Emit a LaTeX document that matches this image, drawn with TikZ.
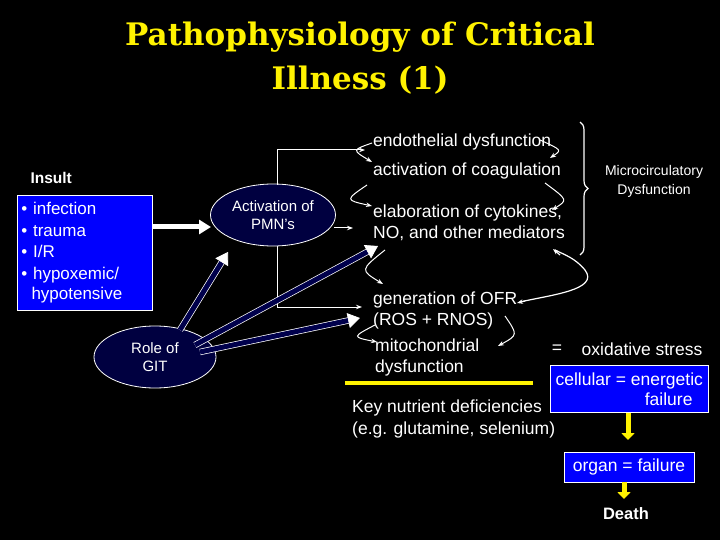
\documentclass[tikz,border=0pt]{standalone}
\usepackage{fontspec}
\setmainfont{Liberation Sans}
\newfontfamily\titlefont{DejaVu Serif}
\usetikzlibrary{arrows.meta,decorations.pathreplacing,shapes.geometric}
\begin{document}
\begin{tikzpicture}[x=1pt,y=-1pt,
  txt/.style={text=white,font=\fontsize{17.5}{21}\selectfont,anchor=west,inner sep=0},
  wl/.style={white,line width=0.9pt},
  wa/.style={white,line width=1pt,-{Stealth[length=6pt]}},
  ell/.style={ellipse,draw=white!80,fill=blue!25!black,text=white!85,align=center,minimum width=122,minimum height=62,font=\fontsize{15}{18}\selectfont,line width=0.8pt},
  bbox/.style={draw=white,fill=blue,text=white,font=\fontsize{17.5}{20}\selectfont,line width=0.6pt},
  barr/.style={draw=white!60,double=blue!30!black,double distance=5pt,line width=0.7pt,-{Triangle[length=12pt,width=15pt]}},
  yarr/.style={yellow,line width=5pt,-{Triangle[length=7pt,width=13pt]}}]
\fill[black] (0,0) rectangle (720,540);
\useasboundingbox (0,0) rectangle (720,540);
\node[text=yellow,font=\titlefont\bfseries\fontsize{31}{44}\selectfont,align=center] (title) at (360,58) {Pathophysiology of Critical\\Illness (1)};
\node[text=white,font=\bfseries\fontsize{15.5}{18}\selectfont,anchor=west] (ins) at (27,178) {Insult};
\node[bbox,anchor=north west,minimum width=135,minimum height=115,align=left,inner sep=4pt,text width=127] (insbox) at (17,195) {\fontsize{17}{21.5}\selectfont • infection\\• trauma\\• I/R\\• hypoxemic/\\\hspace*{0.6em}hypotensive};
\node[ell] (pmn) at (273,215) {Activation of\\PMN's};
\node[ell] (git) at (155,357) {Role of\\GIT};
\draw[white,line width=5pt,-{Triangle[length=12pt,width=14pt]}] (insbox.east|-0,227) -- (211,227);
\node[txt] (endo) at (373,142) {endothelial dysfunction};
\node[txt] (coag) at (373,171) {activation of coagulation};
\node[txt,align=left] (cyto) at (373,223) {elaboration of cytokines,\\NO, and other mediators};
\node[txt,align=left] (ofr) at (373,310) {generation of OFR\\(ROS + RNOS)};
\node[txt,align=left] (mito) at (375,357) {mitochondrial\\dysfunction};
\coordinate (c1) at (365,150);
\coordinate (c2) at (362,307);
\coordinate (c3) at (353,228);
\draw[wa] (277,185) |- (c1);
\draw[wa] (277,246) |- (c2);
\draw[wa] (334,228) -- (c3);
\draw[barr] (180,330) -- (228,252);
\draw[barr] (195,345) -- (378,246);
\draw[barr] (200,352) -- (360,318);
% curly arrows
\draw[wa] (372,143) .. controls (352,150) .. (372,162);
\draw[wa] (367,185) .. controls (345,200) .. (372,206);
\draw[wa] (540,140) .. controls (562,150) .. (550,158);
\draw[wa] (545,183) .. controls (568,200) .. (552,210);
\draw[wa] (385,250) .. controls (360,270) .. (383,284);
\draw[wa] (375,325) .. controls (352,337) .. (377,342);
\draw[wa] (505,316) .. controls (518,335) .. (498,346);
\draw[white,line width=1.2pt] (520,302) .. controls (550,295) and (600,290) .. (585,270)
  .. controls (575,258) and (565,255) .. (555,250);
\draw[white,line width=1.2pt,-{Stealth[length=6pt]}] (560,255) -- (553,249);
\draw[white,line width=1.2pt,-{Stealth[length=6pt]}] (525,301) -- (517,303);
\draw[white,line width=1.2pt,decorate,decoration={brace,amplitude=8pt}] (580,122) -- (580,255);
\node[text=white,font=\fontsize{14}{19}\selectfont,align=center] (micro) at (654,181) {Microcirculatory\\Dysfunction};
\node[text=white,font=\fontsize{17.5}{21}\selectfont] (eq) at (557,349) {=};
\node[text=white,font=\fontsize{17.5}{21}\selectfont] (ox) at (642,349) {oxidative stress};
\coordinate (y1) at (345,383);
\coordinate (y2) at (533,383);
\draw[yellow,line width=4pt] (y1) -- (y2);
\node[bbox,anchor=north west,minimum width=158,minimum height=47,inner sep=2pt,align=center] (cell) at (550,365) {cellular = energetic\\\hspace*{4.5em}failure};
\node[txt,align=left,font=\fontsize{17.5}{22}\selectfont] (key) at (352,419) {Key nutrient deficiencies\\(e.g. glutamine, selenium)};
\node[bbox,minimum width=130,minimum height=30,inner sep=2pt] (org) at (629,467) {organ = failure};
\node[text=white,font=\bfseries\fontsize{16.5}{18}\selectfont] (death) at (626,514) {Death};
\draw[yarr] (cell.south-|628,0) -- (628,440);
\draw[yarr] (org.south-|624,0) -- (624,499);
\end{tikzpicture}
\end{document}
